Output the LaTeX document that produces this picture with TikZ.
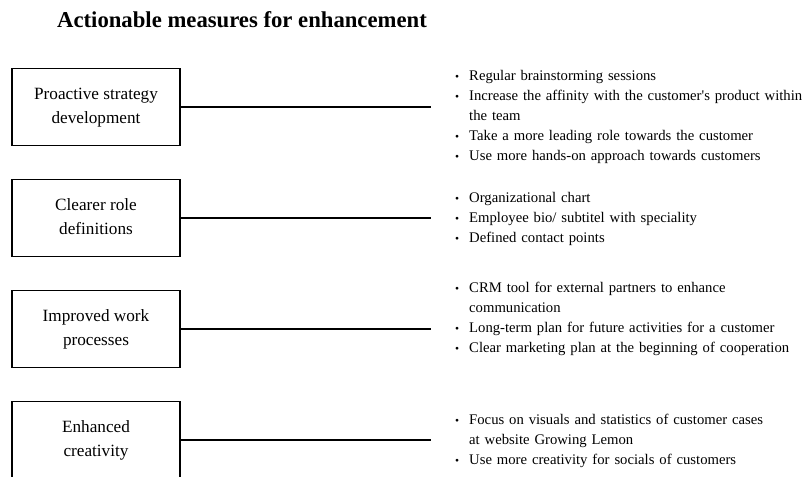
\documentclass[tikz,border=0pt]{standalone}
\usepackage{fontspec}
\setmainfont{Liberation Serif}

\newcommand{\bul}{\makebox[14pt][l]{\fontsize{11.5}{11.5}\selectfont\textbullet}}
\newcommand{\cont}{\hspace*{14pt}}

\begin{document}
\begin{tikzpicture}[x=1pt, y=-1pt,
    measure/.style={draw, line width=1.1pt, minimum width=168pt, minimum height=77pt, inner sep=0pt, align=center, font=\fontsize{17.2}{23.5}\selectfont},
    link/.style={line width=1.6pt},
    points/.style={anchor=base west, inner sep=0pt, align=left, text width=365pt, font=\fontsize{14.7}{20}\selectfont}]
    \useasboundingbox (0, 0) rectangle (804, 477);
    \clip (0, 0) rectangle (804, 477);

    \node [anchor=base, inner sep=0pt, font=\fontsize{22.7}{26}\selectfont\bfseries] (title) at (242, 27) {Actionable measures for enhancement};

    % boxes on the left
    \node [measure] (strategy) at (96, 107) {\strut Proactive strategy\\\strut development};
    \node [measure] (roles) at (96, 218) {\strut Clearer role\\\strut definitions};
    \node [measure] (processes) at (96, 329) {\strut Improved work\\\strut processes};
    \node [measure] (creativity) at (96, 440) {\strut Enhanced\\\strut creativity};

    % free ends of the lines
    \coordinate (strategy end) at (431, 107);
    \coordinate (roles end) at (431, 218);
    \coordinate (processes end) at (431, 329);
    \coordinate (creativity end) at (431, 440);

    \draw [link] (strategy) -- (strategy end);
    \draw [link] (roles) -- (roles end);
    \draw [link] (processes) -- (processes end);
    \draw [link] (creativity) -- (creativity end);

    % measures on the right
    \node [points] (strategy list) at (455, 80) {\bul Regular brainstorming sessions\\
        \bul Increase the affinity with the customer\textquotesingle s product within\\
        \cont the team\\
        \bul Take a more leading role towards the customer\\
        \bul Use more hands-on approach towards customers};
    \node [points] (roles list) at (455, 202) {\bul Organizational chart\\
        \bul Employee bio/ subtitel with speciality\\
        \bul Defined contact points};
    \node [points] (processes list) at (455, 292) {\bul CRM tool for external partners to enhance\\
        \cont communication\\
        \bul Long-term plan for future activities for a customer\\
        \bul Clear marketing plan at the beginning of cooperation};
    \node [points] (creativity list) at (455, 424) {\bul Focus on visuals and statistics of customer cases\\
        \cont at website Growing Lemon\\
        \bul Use more creativity for socials of customers};

\end{tikzpicture}
\end{document}
